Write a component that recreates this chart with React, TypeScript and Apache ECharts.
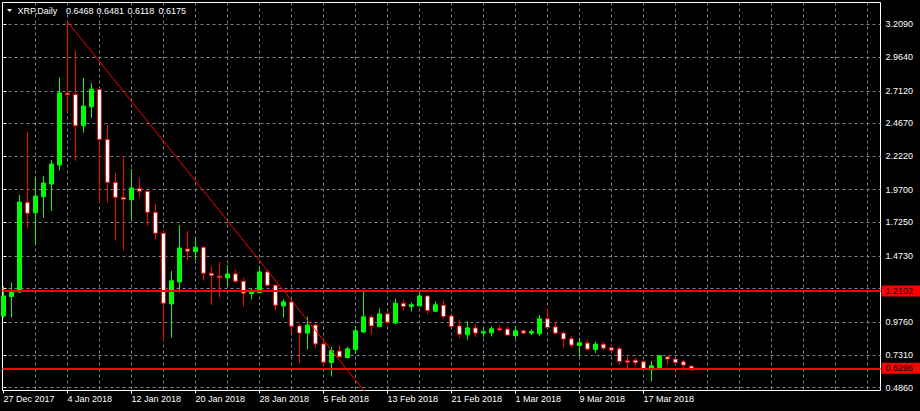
import React, { useEffect, useRef } from 'react';
import * as echarts from 'echarts';

// Daily XRP candles, day 0 = 27 Dec 2017
const opens = [
  1.023, 1.168, 1.203, 1.875, 1.797, 1.917, 2.012, 2.155, 2.694, 2.684,
  2.449, 2.592, 2.722, 2.347, 2.025, 1.913, 1.895, 1.980, 1.958, 1.800,
  1.643, 1.113, 1.278, 1.525, 1.505, 1.538, 1.343, 1.321, 1.308, 1.338,
  1.283, 1.190, 1.198, 1.353, 1.253, 1.098, 1.128, 0.948, 0.894, 0.954,
  0.813, 0.673, 0.759, 0.711, 0.771, 0.903, 1.014, 0.943, 1.038, 0.969,
  1.118, 1.093, 1.098, 1.173, 1.058, 1.103, 1.023, 0.948, 0.881, 0.933,
  0.894, 0.896, 0.928, 0.924, 0.876, 0.911, 0.894, 0.889, 1.001, 0.941,
  0.894, 0.851, 0.801, 0.819, 0.771, 0.811, 0.784, 0.776, 0.686, 0.691,
  0.679, 0.619, 0.636, 0.716, 0.699, 0.679, 0.6468,
];
const closes = [
  1.173, 1.209, 1.877, 1.793, 1.922, 2.020, 2.162, 2.696, 2.682, 2.449,
  2.597, 2.724, 2.347, 2.025, 1.913, 1.898, 1.982, 1.958, 1.800, 1.643,
  1.118, 1.286, 1.533, 1.508, 1.538, 1.343, 1.325, 1.310, 1.338, 1.283,
  1.193, 1.205, 1.353, 1.253, 1.103, 1.128, 0.946, 0.894, 0.954, 0.813,
  0.676, 0.763, 0.716, 0.776, 0.911, 1.016, 0.948, 1.038, 0.976, 1.118,
  1.093, 1.106, 1.173, 1.063, 1.106, 1.018, 0.943, 0.886, 0.933, 0.894,
  0.904, 0.926, 0.918, 0.879, 0.911, 0.894, 0.906, 1.001, 0.936, 0.894,
  0.849, 0.804, 0.821, 0.774, 0.811, 0.781, 0.766, 0.681, 0.676, 0.671,
  0.621, 0.649, 0.724, 0.699, 0.674, 0.654, 0.6175,
];
const lows = [
  1.010, 1.010, 1.195, 1.685, 1.555, 1.760, 1.810, 2.112, 2.550, 2.187,
  2.397, 2.509, 1.872, 1.872, 1.588, 1.513, 1.743, 1.908, 1.700, 1.598,
  0.838, 0.861, 1.198, 1.438, 1.443, 1.288, 1.106, 1.160, 1.243, 1.268,
  1.093, 1.148, 1.195, 1.238, 1.063, 1.010, 0.894, 0.669, 0.771, 0.781,
  0.643, 0.568, 0.709, 0.703, 0.739, 0.894, 0.883, 0.940, 0.956, 0.963,
  1.063, 1.056, 1.095, 1.036, 1.056, 1.001, 0.940, 0.856, 0.843, 0.864,
  0.864, 0.868, 0.909, 0.877, 0.856, 0.883, 0.879, 0.873, 0.930, 0.883,
  0.786, 0.786, 0.724, 0.763, 0.744, 0.768, 0.746, 0.654, 0.632, 0.649,
  0.611, 0.531, 0.624, 0.654, 0.666, 0.612, 0.6118,
];
const highs = [
  1.243, 1.273, 1.930, 2.404, 2.067, 2.072, 2.192, 2.814, 3.234, 3.016,
  2.809, 2.769, 2.730, 2.455, 2.097, 2.222, 2.125, 2.060, 1.962, 1.863,
  1.668, 1.361, 1.705, 1.660, 1.603, 1.545, 1.398, 1.428, 1.405, 1.368,
  1.308, 1.231, 1.398, 1.368, 1.260, 1.148, 1.143, 0.963, 1.018, 0.963,
  0.834, 0.793, 0.806, 0.793, 0.948, 1.213, 1.031, 1.078, 1.056, 1.153,
  1.143, 1.123, 1.218, 1.175, 1.131, 1.138, 1.043, 0.993, 0.983, 0.963,
  0.936, 0.943, 0.954, 0.948, 0.948, 0.921, 0.924, 1.031, 1.083, 0.981,
  0.911, 0.873, 0.856, 0.843, 0.829, 0.826, 0.804, 0.794, 0.724, 0.709,
  0.689, 0.686, 0.726, 0.720, 0.709, 0.691, 0.6481,
];

const xLabelDays = [0, 8, 16, 24, 32, 40, 48, 56, 64, 72, 80];
const xLabels = [
  '27 Dec 2017', '4 Jan 2018', '12 Jan 2018', '20 Jan 2018', '28 Jan 2018',
  '5 Feb 2018', '13 Feb 2018', '21 Feb 2018', '1 Mar 2018', '9 Mar 2018', '17 Mar 2018',
];
const xGridDays = [
  4, 8, 12, 16, 20, 24, 28, 32, 36, 40, 44, 48, 52, 56, 60, 64, 68, 72, 76, 80,
  84, 88, 92, 96, 100, 104, 108,
];
const yGridValues = [0.486, 0.731, 0.976, 1.2287, 1.473, 1.725, 1.97, 2.222, 2.467, 2.712, 2.964, 3.209];
const yLabelValues = [0.486, 0.731, 0.976, 1.473, 1.725, 1.97, 2.222, 2.467, 2.712, 2.964, 3.209];
const hLines = [1.2102, 0.6296];
const bidPrice = 0.6175;
const trendPoints = [[8, 3.23], [46, 0.3914]];
const symbolTitle = 'XRP,Daily';

const FONT = 'Liberation Sans';

export default function App() {
  const ref = useRef<HTMLDivElement>(null);
  useEffect(() => {
    if (!ref.current) return;
    const chart = echarts.init(ref.current, null, { renderer: 'svg' });
    const n = opens.length;
    const candleData = opens.map((o, i) => [i, o, closes[i], lows[i], highs[i]]);
    const lastVals = [opens[n - 1], highs[n - 1], lows[n - 1], closes[n - 1]].map((v) => v.toFixed(4));
    const titleXs = [66, 96.5, 127.5, 158.5];
    const gridLine = { show: true, lineStyle: { color: '#778899', type: [3, 3], width: 1 } };
    const option: any = {
      animation: false,
      backgroundColor: '#000000',
      textStyle: { fontFamily: FONT },
      grid: {
        left: 2.5, top: 2.5, right: 39.5, bottom: 20.5,
        show: true, borderColor: '#ffffff', borderWidth: 1, backgroundColor: 'transparent',
      },
      xAxis: [
        {
          type: 'value', min: -0.125, max: 109.625, position: 'bottom',
          axisLine: { show: false },
          axisTick: { show: false, customValues: xGridDays },
          axisLabel: { show: false },
          splitLine: gridLine,
        },
        {
          type: 'value', min: -0.125, max: 109.625, position: 'bottom',
          axisLine: { show: false },
          axisTick: { show: true, length: 3, customValues: xLabelDays, lineStyle: { color: '#ffffff' } },
          axisLabel: {
            show: true, customValues: xLabelDays,
            formatter: (v: number) => {
              const k = xLabelDays.indexOf(Math.round(v));
              return k >= 0 ? xLabels[k] : '';
            },
            color: '#ffffff', fontFamily: FONT, fontSize: 9, align: 'left', margin: 4,
          },
          splitLine: { show: false },
        },
      ],
      yAxis: {
        type: 'value', position: 'right', min: 0.4635, max: 3.374,
        axisLine: { show: false },
        axisTick: { show: true, length: 3, customValues: yGridValues, lineStyle: { color: '#ffffff' } },
        axisLabel: {
          customValues: yLabelValues,
          formatter: (v: number) => v.toFixed(4),
          color: '#ffffff', fontFamily: FONT, fontSize: 9, margin: 5,
        },
        splitLine: gridLine,
      },
      graphic: [
        { type: 'polygon', shape: { points: [[7, 9], [12, 9], [9.5, 12]] }, style: { fill: '#ffffff' } },
        { type: 'text', x: 17.5, y: 10.5, style: { text: symbolTitle, fill: '#ffffff', font: `9px "${FONT}"`, verticalAlign: 'middle' } },
        ...lastVals.map((t, i) => ({
          type: 'text', x: titleXs[i], y: 10.5,
          style: { text: t, fill: '#ffffff', font: `9px "${FONT}"`, verticalAlign: 'middle' },
        })),
      ],
      series: [
        {
          type: 'candlestick', xAxisIndex: 0, yAxisIndex: 0, data: candleData, barWidth: 4, z: 2,
          itemStyle: { color: '#00ff00', color0: '#ffffff', borderColor: '#00ff00', borderColor0: '#ff0000', borderWidth: 1 },
        },
        {
          type: 'line', xAxisIndex: 0, data: trendPoints, showSymbol: false, symbol: 'none', z: 3, silent: true,
          lineStyle: { color: '#ff0000', width: 1 },
        },
        {
          type: 'line', xAxisIndex: 0, data: [], z: 4, silent: true,
          markLine: {
            silent: true, symbol: ['none', 'none'], precision: 4,
            lineStyle: { opacity: 0 },
            data: [{ yAxis: bidPrice }],
            label: {
              position: 'end', distance: 1, formatter: () => bidPrice.toFixed(4),
              backgroundColor: '#ffffff', color: '#000000', fontFamily: FONT, fontSize: 9,
              lineHeight: 9, padding: [1, 8, 1, 4],
            },
          },
        },
        {
          type: 'line', xAxisIndex: 0, data: [], z: 5, silent: true,
          markLine: {
            silent: true, symbol: ['none', 'none'], precision: 4,
            lineStyle: { color: '#ff0000', width: 2, type: 'solid' },
            data: hLines.map((v) => ({ yAxis: v })),
            label: {
              position: 'end', distance: 1,
              formatter: (p: any) => hLines[p.dataIndex].toFixed(4),
              backgroundColor: '#ff0000', color: '#000000', fontFamily: FONT, fontSize: 9,
              lineHeight: 9, padding: [1, 8, 1, 4],
            },
          },
        },
      ],
    };
    chart.setOption(option);
    return () => chart.dispose();
  }, []);
  return (
    <div style={{ position: 'fixed', left: 0, top: 0, width: 920, height: 411, background: '#000' }}>
      <div ref={ref} style={{ width: 920, height: 411 }} />
    </div>
  );
}
